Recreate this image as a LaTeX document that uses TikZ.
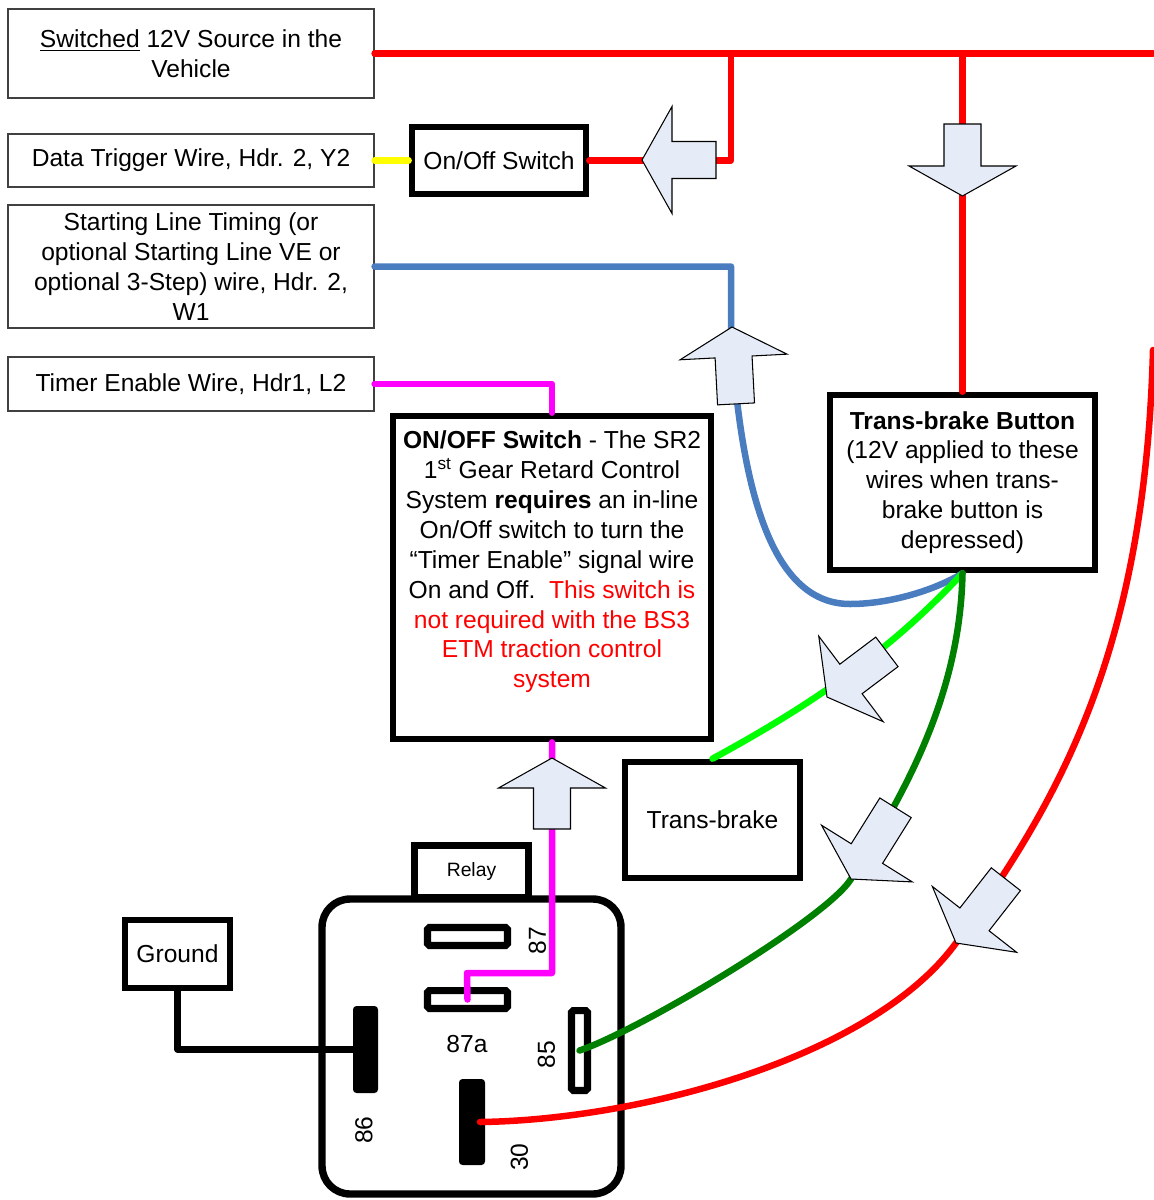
\documentclass[tikz,border=0pt]{standalone}
\usepackage{fontspec}
\setmainfont{Liberation Sans}
\definecolor{wred}{RGB}{255,0,0}
\definecolor{wblue}{RGB}{74,124,192}
\definecolor{dkgreen}{RGB}{0,128,0}
\definecolor{ltgreen}{RGB}{0,255,0}
\definecolor{wmagenta}{RGB}{255,0,255}
\definecolor{wyellow}{RGB}{255,255,0}
\definecolor{arrowfill}{RGB}{230,236,247}
\begin{document}
\begin{tikzpicture}[x=0.02cm,y=-0.02cm,
  every node/.style={font=\fontsize{14}{17}\selectfont},
  thin box/.style={draw=black!75,line width=0.7pt,fill=white,minimum width=7.32cm,align=center,inner sep=0pt},
  thick box/.style={draw=black,line width=3.8pt,fill=white,align=center,inner sep=0pt},
  blade/.style={draw=black,line width=4pt,fill=white,rounded corners=1pt,inner sep=0pt},
  blade solid/.style={fill=black,rounded corners=2pt,inner sep=0pt},
  cable/.style={line width=3.7pt,line cap=round,line join=round},
  big arrow/.style={fill=arrowfill,draw=black,line width=0.6pt,line join=miter},
  barrow/.pic={\draw[big arrow] (0,0) -- (-30,-53.5) -- (-30,-18.5) -- (-#1,-18.5) -- (-#1,18.5) -- (-30,18.5) -- (-30,53.5) -- cycle;}]
\useasboundingbox (0,0) rectangle (1153,1200);

% wire labels on the left
\node[thin box,minimum height=1.78cm] (src) at (191,53.5) {\underline{Switched} 12V Source in the\\Vehicle};
\node[thin box,minimum height=1.06cm] (dt) at (191,160.5) {Data Trigger Wire, Hdr. 2, Y2};
\node[thin box,minimum height=2.46cm] (slt) at (191,266.5) {Starting Line Timing (or\\optional Starting Line VE or\\optional 3-Step) wire, Hdr. 2,\\W1};
\node[thin box,minimum height=1.08cm] (te) at (191,384) {Timer Enable Wire, Hdr1, L2};

% switches and buttons
\node[thick box,minimum width=3.48cm,minimum height=1.34cm] (sw) at (499,160.5) {On/Off Switch};
\node[thick box,minimum width=6.36cm,minimum height=6.46cm] (onoff) at (552,577.5) {};
\node[align=center] (onofftxt) at (552,562) {\textbf{ON/OFF Switch} - The SR2\\
1\textsuperscript{st} Gear Retard Control\\
System \textbf{requires} an in-line\\
On/Off switch to turn the\\
“Timer Enable” signal wire\\
On and Off.~~\textcolor{wred}{This switch is}\\
\textcolor{wred}{not required with the BS3}\\
\textcolor{wred}{ETM traction control}\\
\textcolor{wred}{system}};
\node[thick box,minimum width=5.3cm,minimum height=3.5cm] (tbb) at (962.5,482.5) {\textbf{Trans-brake Button}\\(12V applied to these\\wires when trans-\\brake button is\\depressed)};
\node[thick box,minimum width=3.5cm,minimum height=2.32cm] (tb) at (712.5,820) {Trans-brake};
\node[thick box,minimum width=2.1cm,minimum height=1.36cm] (gnd) at (177.5,954) {Ground};

% relay
\node[thick box,line width=4pt,minimum width=2.28cm,minimum height=1.05cm,font=\fontsize{11}{13}\selectfont] (relaylbl) at (471.5,871.75) {Relay};
\node[draw,line width=4.2pt,rounded corners=0.56cm,minimum width=5.98cm,minimum height=5.9cm,inner sep=0pt] (relay) at (471.5,1046.5) {};
\node[blade,minimum width=1.6cm,minimum height=0.36cm] (p87) at (467.5,936.5) {};
\node[blade,minimum width=1.6cm,minimum height=0.36cm] (p87a) at (467.5,999.5) {};
\node[blade,minimum width=0.32cm,minimum height=1.6cm] (p85) at (579.5,1050.5) {};
\node[blade solid,minimum width=0.5cm,minimum height=1.74cm] (p86) at (365.5,1049.5) {};
\node[blade solid,minimum width=0.52cm,minimum height=1.72cm] (p30) at (472,1122) {};
\node[rotate=90] (l87) at (537.5,940.5) {87};
\node (l87a) at (467,1044) {87a};
\node[rotate=90] (l85) at (546.5,1054.5) {85};
\node[rotate=90] (l86) at (364,1130) {86};
\node[rotate=90] (l30) at (519.5,1157) {30};

% wires
\coordinate (j1) at (731,53.5);
\coordinate (j2) at (962.5,53.5);
\coordinate (redout) at (1153,53.5);
\coordinate (redin) at (1153,350);
\coordinate (redmid) at (956,943);
\coordinate (grmid) at (851,879);
\coordinate (blbend) at (731,330);
\coordinate (blow) at (850,604);
\coordinate (mgbend) at (467,973);
\draw[cable,wred] (src.east) -- (redout);
\draw[cable,wred] (sw.east) -| (j1);
\draw[cable,wred] (j2) -- (tbb.north);
\draw[cable,wyellow] (dt.east) -- (sw.west);
\draw[cable,wblue] (slt.east) -| (blbend) .. controls (741,500) and (775,604) .. (blow) .. controls (890,604) and (935,590) .. (tbb.south);
\draw[cable,wmagenta] (te.east) -| (onoff.north);
\draw[cable,wmagenta] (onoff.south) |- (mgbend) -- (p87a.center);
\draw[cable,ltgreen] (tbb.south) .. controls (900,640) and (830,695) .. (tb.north);
\draw[cable,dkgreen] (tbb.south) .. controls (960,700) and (900,800) .. (grmid) .. controls (826.5,918.5) and (640,1030) .. (p85.center);
\draw[cable,wred] (redin) .. controls (1145,650) and (1060,800) .. (redmid) .. controls (872.8,1057.4) and (640,1120) .. ([xshift=0.16cm]p30.center);
\draw[cable] (gnd.south) |- (p86.west);

% direction arrows
\pic[rotate=180] at (642,160) {barrow=74};
\pic[rotate=270] at (962.5,196) {barrow=72};
\pic[rotate=93] at (732,327) {barrow=77};
\pic[rotate=90] at (552,758) {barrow=71};
\pic[rotate=217] at (827,697) {barrow=75};
\pic[rotate=238] at (851,879) {barrow=84};
\pic[rotate=232] at (956,943) {barrow=81};
\end{tikzpicture}
\end{document}
